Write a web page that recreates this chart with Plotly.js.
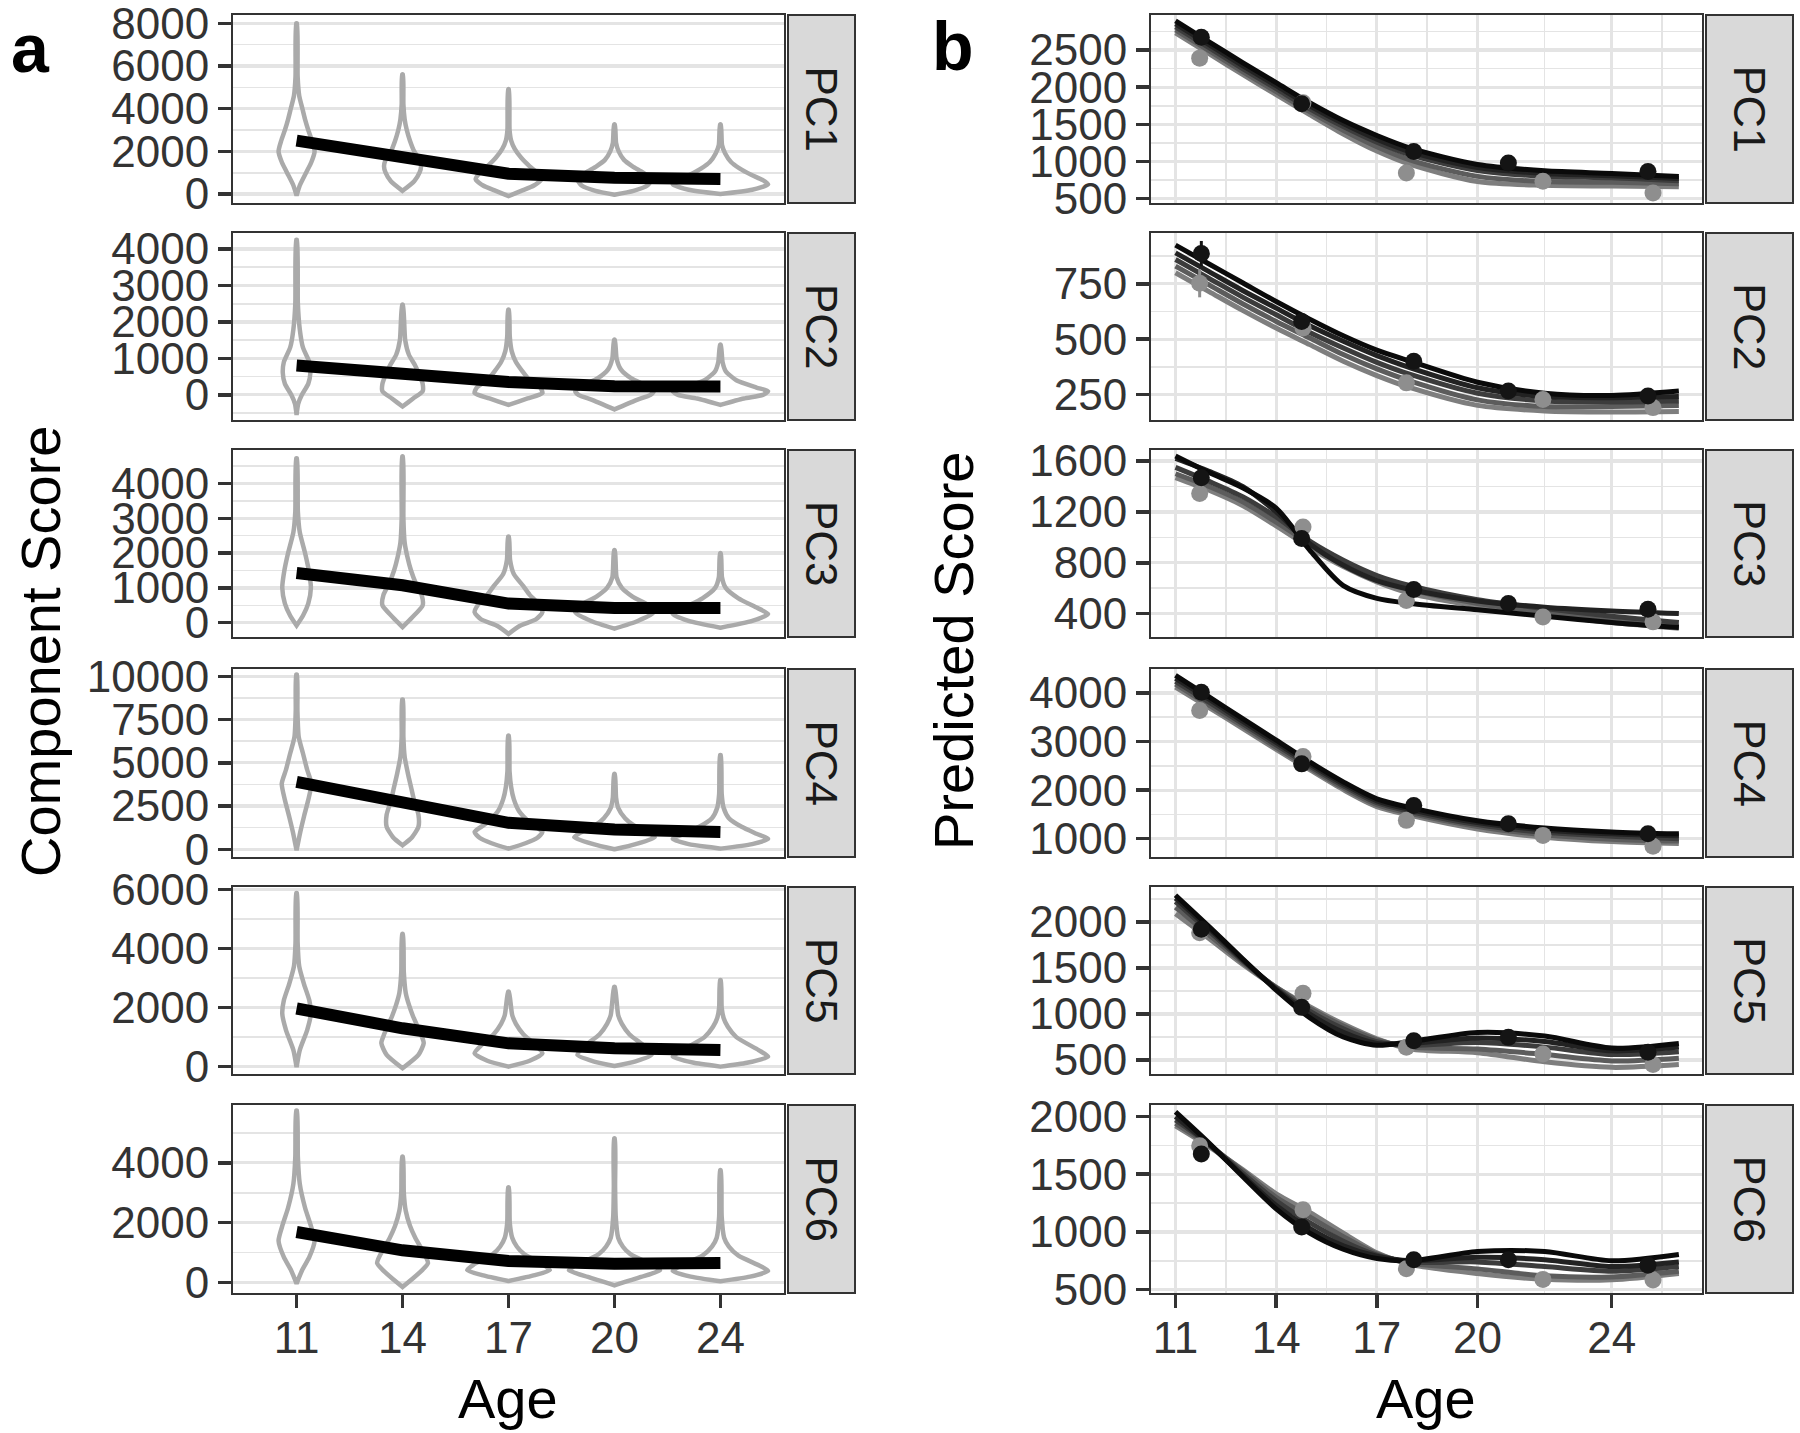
<!DOCTYPE html>
<html><head><meta charset="utf-8">
<script src="https://cdn.plot.ly/plotly-3.0.1.min.js"></script>
<style>html,body{margin:0;padding:0;background:#fff}#chart{width:1800px;height:1433px}</style>
</head><body><div id="chart"></div>
<script>
// ---------------- DATA ----------------
const components = ['PC1', 'PC2', 'PC3', 'PC4', 'PC5', 'PC6'];
const ageLabels = ['11', '14', '17', '20', '24'];
const ageIndex = [1, 2, 3, 4, 5];

// Panel a: mean component score per age wave
const meanPC1 = [2500, 1750, 950, 760, 710];
const meanPC2 = [805, 570, 350, 235, 230];
const meanPC3 = [1430, 1075, 550, 420, 420];
const meanPC4 = [3900, 2750, 1530, 1140, 1000];
const meanPC5 = [1970, 1300, 790, 620, 560];
const meanPC6 = [1690, 1080, 725, 635, 655];

// Panel a: violin outlines (score levels and half-widths) per age wave
const violinPC1Y = [
  [-80, 400, 1000, 1500, 2000, 2500, 3000, 3500, 4000, 4600, 5500, 8000],
  [150, 600, 1000, 1300, 1600, 2000, 2500, 3000, 3500, 4200, 5600],
  [-100, 150, 400, 700, 1000, 1300, 1700, 2100, 2500, 3000, 4900],
  [-30, 150, 400, 700, 1000, 1300, 1600, 2000, 2400, 3250],
  [0, 200, 450, 650, 900, 1200, 1500, 1900, 2300, 3250]];
const violinPC1W = [
  [0, 0.03, 0.09, 0.14, 0.17, 0.145, 0.11, 0.08, 0.055, 0.025, 0.01, 0.004],
  [0, 0.11, 0.16, 0.175, 0.16, 0.11, 0.07, 0.04, 0.02, 0.008, 0.004],
  [0, 0.12, 0.24, 0.31, 0.27, 0.2, 0.12, 0.06, 0.025, 0.01, 0.004],
  [0, 0.18, 0.31, 0.35, 0.27, 0.17, 0.09, 0.04, 0.015, 0.004],
  [0, 0.3, 0.45, 0.4, 0.29, 0.18, 0.1, 0.045, 0.015, 0.004]];

const violinPC2Y = [
  [-550, -250, 0, 300, 600, 900, 1300, 1800, 2500, 4250],
  [-320, -100, 100, 300, 550, 800, 1100, 1500, 2470],
  [-275, -100, 50, 200, 400, 650, 900, 1200, 1600, 2330],
  [-400, -150, 0, 100, 250, 450, 700, 1000, 1510],
  [-275, -100, 0, 100, 200, 400, 650, 900, 1370]];
const violinPC2W = [
  [0, 0.015, 0.05, 0.11, 0.13, 0.12, 0.06, 0.03, 0.012, 0.004],
  [0, 0.1, 0.19, 0.19, 0.16, 0.12, 0.06, 0.025, 0.004],
  [0, 0.18, 0.32, 0.3, 0.2, 0.13, 0.07, 0.03, 0.012, 0.004],
  [0, 0.2, 0.34, 0.37, 0.3, 0.16, 0.06, 0.02, 0.004],
  [0, 0.22, 0.4, 0.45, 0.34, 0.15, 0.05, 0.02, 0.004]];

const violinPC3Y = [
  [-80, 200, 550, 1000, 1500, 2000, 2600, 3200, 4720],
  [-125, 150, 500, 800, 1100, 1500, 1900, 2300, 3000, 4770],
  [-320, -100, 100, 300, 550, 800, 1050, 1400, 1800, 2470],
  [-170, 50, 300, 500, 750, 1000, 1300, 2080],
  [-145, 50, 250, 450, 700, 1000, 1300, 1990]];
const violinPC3W = [
  [0, 0.06, 0.11, 0.135, 0.115, 0.08, 0.03, 0.012, 0.004],
  [0, 0.09, 0.19, 0.18, 0.13, 0.08, 0.045, 0.02, 0.008, 0.004],
  [0, 0.1, 0.26, 0.32, 0.28, 0.2, 0.14, 0.05, 0.015, 0.004],
  [0, 0.22, 0.37, 0.32, 0.17, 0.07, 0.02, 0.004],
  [0, 0.3, 0.45, 0.33, 0.17, 0.05, 0.015, 0.004]];

const violinPC4Y = [
  [-60, 1000, 1900, 2850, 3800, 4600, 5550, 6500, 8000, 10100],
  [230, 700, 1300, 2000, 2800, 3600, 4400, 5350, 6500, 8650],
  [40, 350, 650, 1000, 1500, 2200, 2900, 3600, 4500, 6560],
  [0, 300, 700, 1000, 1400, 1800, 2400, 3000, 4350],
  [40, 300, 600, 900, 1300, 1800, 2400, 3200, 5450]];
const violinPC4W = [
  [0, 0.035, 0.07, 0.11, 0.14, 0.1, 0.06, 0.02, 0.008, 0.004],
  [0, 0.09, 0.15, 0.15, 0.11, 0.08, 0.05, 0.02, 0.008, 0.004],
  [0, 0.16, 0.27, 0.32, 0.21, 0.1, 0.05, 0.025, 0.01, 0.004],
  [0, 0.2, 0.38, 0.31, 0.18, 0.1, 0.035, 0.015, 0.004],
  [0, 0.3, 0.45, 0.34, 0.2, 0.08, 0.03, 0.012, 0.004]];

const violinPC5Y = [
  [-20, 560, 1240, 1800, 2250, 2800, 3400, 4200, 5885],
  [-55, 400, 800, 1130, 1700, 2100, 2500, 3200, 4490],
  [0, 200, 450, 750, 1100, 1450, 1750, 2540],
  [20, 180, 400, 700, 1100, 1450, 1750, 2700],
  [0, 130, 340, 560, 1000, 1350, 1650, 2000, 2930]];
const violinPC5W = [
  [0, 0.03, 0.1, 0.135, 0.12, 0.07, 0.025, 0.01, 0.004],
  [0, 0.15, 0.2, 0.17, 0.1, 0.06, 0.03, 0.012, 0.004],
  [0, 0.2, 0.32, 0.25, 0.14, 0.07, 0.035, 0.004],
  [0, 0.2, 0.35, 0.28, 0.14, 0.07, 0.035, 0.004],
  [0, 0.25, 0.45, 0.36, 0.15, 0.07, 0.03, 0.012, 0.004]];

const violinPC6Y = [
  [-30, 400, 850, 1400, 1950, 2500, 3300, 4200, 5740],
  [-145, 300, 650, 1000, 1500, 1900, 2400, 3000, 4200],
  [55, 250, 420, 600, 950, 1200, 1500, 2000, 3175],
  [-90, 190, 420, 550, 950, 1200, 1500, 2200, 3200, 4810],
  [45, 200, 390, 550, 900, 1200, 1500, 2200, 3750]];
const violinPC6W = [
  [0, 0.05, 0.12, 0.17, 0.13, 0.08, 0.03, 0.012, 0.004],
  [0, 0.15, 0.24, 0.2, 0.12, 0.07, 0.03, 0.012, 0.004],
  [0, 0.25, 0.39, 0.33, 0.15, 0.08, 0.035, 0.012, 0.004],
  [0, 0.25, 0.43, 0.38, 0.15, 0.08, 0.035, 0.012, 0.006, 0.004],
  [0, 0.28, 0.45, 0.38, 0.17, 0.08, 0.035, 0.012, 0.004]];

// Panel a y ticks
const yTicksA = [
  [0, 2000, 4000, 6000, 8000],
  [0, 1000, 2000, 3000, 4000],
  [0, 1000, 2000, 3000, 4000],
  [0, 2500, 5000, 7500, 10000],
  [0, 2000, 4000, 6000],
  [0, 2000, 4000]];

// Panel b: predicted trajectories (5 model curves per component, darkest first)
const curveAges = [11, 12, 13, 14, 15, 16, 17, 18, 20, 22, 24, 26];
const curvesPC1 = [
  [2890, 2610, 2330, 2060, 1790, 1550, 1350, 1180, 960, 875, 840, 800],
  [2850, 2570, 2290, 2020, 1750, 1510, 1300, 1130, 920, 840, 810, 770],
  [2810, 2530, 2250, 1980, 1710, 1470, 1260, 1090, 880, 800, 780, 740],
  [2770, 2490, 2210, 1940, 1670, 1420, 1200, 1020, 800, 730, 720, 700],
  [2730, 2450, 2170, 1900, 1630, 1370, 1140, 960, 730, 680, 670, 660]];
const curvesPC2 = [
  [925, 840, 755, 670, 590, 515, 450, 400, 305, 255, 245, 265],
  [890, 805, 720, 640, 560, 490, 425, 370, 280, 240, 235, 240],
  [860, 775, 690, 610, 530, 460, 395, 340, 255, 220, 215, 220],
  [830, 745, 660, 580, 505, 430, 365, 310, 225, 195, 195, 200],
  [800, 715, 630, 550, 475, 400, 335, 280, 200, 175, 170, 172]];
const curvesPC3 = [
  [1640, 1510, 1390, 1230, 900, 620, 520, 480, 430, 380, 330, 290],
  [1620, 1520, 1400, 1200, 950, 780, 660, 590, 500, 450, 420, 400],
  [1550, 1440, 1320, 1160, 970, 820, 700, 620, 510, 440, 380, 330],
  [1500, 1400, 1280, 1120, 950, 800, 680, 590, 480, 410, 350, 300],
  [1470, 1370, 1250, 1090, 920, 770, 650, 560, 460, 390, 330, 285]];
const curvesPC4 = [
  [4360, 3920, 3470, 3030, 2580, 2170, 1820, 1640, 1370, 1220, 1140, 1100],
  [4300, 3870, 3420, 2980, 2540, 2130, 1780, 1600, 1330, 1180, 1100, 1060],
  [4240, 3810, 3370, 2930, 2500, 2090, 1740, 1560, 1290, 1130, 1050, 1000],
  [4180, 3750, 3320, 2880, 2460, 2050, 1700, 1520, 1250, 1080, 990, 950],
  [4120, 3700, 3270, 2840, 2420, 2010, 1660, 1480, 1200, 1030, 940, 900]];
const curvesPC5 = [
  [2290, 1950, 1600, 1260, 960, 750, 660, 700, 800, 760, 630, 680],
  [2260, 1930, 1590, 1270, 1000, 800, 680, 680, 740, 700, 600, 640],
  [2220, 1900, 1580, 1280, 1030, 840, 700, 660, 690, 640, 560, 590],
  [2160, 1860, 1560, 1290, 1060, 870, 720, 640, 620, 560, 490, 520],
  [2090, 1820, 1540, 1290, 1080, 890, 730, 620, 580, 480, 420, 450]];
const curvesPC6 = [
  [2040, 1770, 1480, 1200, 990, 850, 770, 750, 830, 830, 750, 805],
  [2000, 1760, 1490, 1230, 1030, 880, 790, 750, 780, 760, 700, 740],
  [1970, 1760, 1510, 1270, 1080, 920, 800, 740, 740, 700, 660, 700],
  [1940, 1750, 1530, 1300, 1130, 960, 810, 730, 680, 620, 610, 660],
  [1920, 1740, 1540, 1330, 1170, 990, 820, 720, 640, 590, 585, 640]];

// Panel b: observed means (two groups)
const dotAgesBlack = [11.77, 14.76, 18.1, 20.92, 25.08];
const dotAgesGrey = [11.72, 14.8, 17.88, 21.95, 25.23];
const dotsBlackPC1 = [2670, 1776, 1136, 980, 867];
const dotsGreyPC1 = [2390, 1790, 846, 734, 576];
const dotsBlackPC2 = [887, 580, 400, 265, 243];
const dotsGreyPC2 = [753, 550, 302, 227, 190];
const dotsBlackPC3 = [1469, 990, 590, 480, 434];
const dotsGreyPC3 = [1345, 1082, 504, 374, 335];
const dotsBlackPC4 = [4014, 2540, 1685, 1308, 1103];
const dotsGreyPC4 = [3637, 2692, 1377, 1068, 842];
const dotsBlackPC5 = [1920, 1072, 710, 746, 584];
const dotsGreyPC5 = [1884, 1225, 638, 566, 450];
const dotsBlackPC6 = [1675, 1043, 760, 760, 711];
const dotsGreyPC6 = [1747, 1193, 682, 589, 583];
const errBlackPC2 = [57, 0, 0, 0, 0];
const errGreyPC2 = [64, 0, 0, 0, 0];

const ageTicksB = [11, 14, 17, 20, 24];
const yTicksB = [
  [500, 1000, 1500, 2000, 2500],
  [250, 500, 750],
  [400, 800, 1200, 1600],
  [1000, 2000, 3000, 4000],
  [500, 1000, 1500, 2000],
  [500, 1000, 1500, 2000]];

// ---------------- LAYOUT / STYLE ----------------
const W = 1800, H = 1433;
const rowsPx = [[15, 203], [233, 420], [450, 637], [669, 857], [887, 1074], [1105, 1293]];
const aX = [233, 784], aStrip = [788, 855];
const bX = [1151, 1702], bStrip = [1706, 1793];
const yRangeA = [[-420, 8390], [-690, 4440], [-410, 4960], [-445, 10425], [-250, 6090], [-345, 5930]];
const yRangeB = [[442, 2970], [134, 980], [216, 1687], [623, 4493], [348, 2380], [471, 2100]];
const FONT = 'Liberation Sans, Arial, sans-serif';
const GRID = '#E4E4E4';
const BORDER = '#333333';

const meansA = [meanPC1, meanPC2, meanPC3, meanPC4, meanPC5, meanPC6];
const violY = [violinPC1Y, violinPC2Y, violinPC3Y, violinPC4Y, violinPC5Y, violinPC6Y];
const violW = [violinPC1W, violinPC2W, violinPC3W, violinPC4W, violinPC5W, violinPC6W];
const curvesB = [curvesPC1, curvesPC2, curvesPC3, curvesPC4, curvesPC5, curvesPC6];
const dotsBlack = [dotsBlackPC1, dotsBlackPC2, dotsBlackPC3, dotsBlackPC4, dotsBlackPC5, dotsBlackPC6];
const dotsGrey = [dotsGreyPC1, dotsGreyPC2, dotsGreyPC3, dotsGreyPC4, dotsGreyPC5, dotsGreyPC6];
const curveColors = ['#0a0a0a', '#222222', '#3c3c3c', '#5c5c5c', '#7e7e7e'];

const px2x = p => p / W;
const py2y = p => 1 - p / H;

function minorVals(ticks, range) {
  const step = ticks[1] - ticks[0];
  const out = [];
  for (let v = ticks[0] - step / 2; v <= range[1]; v += step) if (v >= range[0]) out.push(v);
  return out;
}

const traces = [];
const layout = {
  width: W, height: H, margin: {l: 0, r: 0, t: 0, b: 0},
  paper_bgcolor: '#fff', plot_bgcolor: '#fff', showlegend: false,
  font: {family: FONT, color: '#333'},
  shapes: [], annotations: []
};

function violinPath(center, ys, ws) {
  const x = [], y = [];
  for (let i = 0; i < ys.length; i++) { x.push(center + ws[i]); y.push(ys[i]); }
  for (let i = ys.length - 1; i >= 0; i--) { x.push(center - ws[i]); y.push(ys[i]); }
  x.push(x[0]); y.push(y[0]);
  return {x, y};
}

const tickCommon = {
  ticklen: 13, tickwidth: 3.5, tickcolor: BORDER, ticklabeloverflow: 'allow',
  tickfont: {size: 44, color: '#333', family: FONT}, zeroline: false,
  showline: true, mirror: true, linecolor: BORDER, linewidth: 2
};

for (let r = 0; r < 6; r++) {
  const isBottom = r === 5;
  const dom = [py2y(rowsPx[r][1]), py2y(rowsPx[r][0])];
  // ---- panel a ----
  const ia = r + 1, xa = 'x' + (ia === 1 ? '' : ia), ya = 'y' + (ia === 1 ? '' : ia);
  layout['xaxis' + (ia === 1 ? '' : ia)] = Object.assign({}, tickCommon, {
    domain: [px2x(aX[0]), px2x(aX[1])], anchor: ya, range: [0.4, 5.6],
    tickvals: ageIndex, ticktext: ageLabels, showgrid: false,
    ticks: isBottom ? 'outside' : '', showticklabels: isBottom, ticklabelstandoff: -8
  });
  layout['yaxis' + (ia === 1 ? '' : ia)] = Object.assign({}, tickCommon, {
    domain: dom, anchor: xa, range: yRangeA[r], tickvals: yTicksA[r],
    ticktext: yTicksA[r].map(String),
    showgrid: true, gridcolor: GRID, gridwidth: 3.2, ticks: 'outside',
    minor: {tickvals: minorVals(yTicksA[r], yRangeA[r]), showgrid: true, gridcolor: GRID, gridwidth: 1.6, ticks: ''}
  });
  for (let k = 0; k < 5; k++) {
    const p = violinPath(ageIndex[k], violY[r][k], violW[r][k]);
    traces.push({x: p.x, y: p.y, xaxis: xa, yaxis: ya, type: 'scatter', mode: 'lines',
      line: {color: '#AAAAAA', width: 4.5, shape: 'spline', smoothing: 0.6}, hoverinfo: 'skip'});
  }
  traces.push({x: ageIndex, y: meansA[r], xaxis: xa, yaxis: ya, type: 'scatter', mode: 'lines',
    line: {color: '#000', width: 12}, hoverinfo: 'skip'});
  layout.shapes.push({type: 'rect', xref: 'paper', yref: 'paper',
    x0: px2x(aStrip[0]), x1: px2x(aStrip[1]), y0: dom[0], y1: dom[1],
    fillcolor: '#D9D9D9', line: {color: BORDER, width: 2}});
  layout.annotations.push({xref: 'paper', yref: 'paper', x: px2x((aStrip[0] + aStrip[1]) / 2),
    y: (dom[0] + dom[1]) / 2, xanchor: 'center', yanchor: 'middle', text: components[r],
    showarrow: false, textangle: 90, font: {size: 44, color: '#1a1a1a', family: FONT}});

  // ---- panel b ----
  const ib = r + 7, xb = 'x' + ib, yb = 'y' + ib;
  layout['xaxis' + ib] = Object.assign({}, tickCommon, {
    domain: [px2x(bX[0]), px2x(bX[1])], anchor: yb, range: [10.27, 26.69],
    tickvals: ageTicksB, showgrid: true, gridcolor: GRID, gridwidth: 3.2,
    ticks: isBottom ? 'outside' : '', showticklabels: isBottom, ticklabelstandoff: -8,
    minor: {tickvals: [12.5, 15.5, 18.5, 22, 25.5], showgrid: true, gridcolor: GRID, gridwidth: 1.6, ticks: ''}
  });
  layout['yaxis' + ib] = Object.assign({}, tickCommon, {
    domain: dom, anchor: xb, range: yRangeB[r], tickvals: yTicksB[r],
    ticktext: yTicksB[r].map(String),
    showgrid: true, gridcolor: GRID, gridwidth: 3.2, ticks: 'outside',
    minor: {tickvals: minorVals(yTicksB[r], yRangeB[r]), showgrid: true, gridcolor: GRID, gridwidth: 1.6, ticks: ''}
  });
  for (let c = curvesB[r].length - 1; c >= 0; c--) {
    traces.push({x: curveAges, y: curvesB[r][c], xaxis: xb, yaxis: yb, type: 'scatter', mode: 'lines',
      line: {color: curveColors[c], width: 5, shape: 'spline', smoothing: 0.8}, hoverinfo: 'skip'});
  }
  const gTrace = {x: dotAgesGrey, y: dotsGrey[r], xaxis: xb, yaxis: yb, type: 'scatter', mode: 'markers',
    marker: {color: '#8E8E8E', size: 17}, hoverinfo: 'skip'};
  const bTrace = {x: dotAgesBlack, y: dotsBlack[r], xaxis: xb, yaxis: yb, type: 'scatter', mode: 'markers',
    marker: {color: '#141414', size: 17}, hoverinfo: 'skip'};
  if (r === 1) {
    gTrace.error_y = {type: 'data', array: errGreyPC2, color: '#8E8E8E', thickness: 3, width: 0};
    bTrace.error_y = {type: 'data', array: errBlackPC2, color: '#141414', thickness: 3, width: 0};
  }
  traces.push(gTrace, bTrace);
  layout.shapes.push({type: 'rect', xref: 'paper', yref: 'paper',
    x0: px2x(bStrip[0]), x1: px2x(bStrip[1]), y0: dom[0], y1: dom[1],
    fillcolor: '#D9D9D9', line: {color: BORDER, width: 2}});
  layout.annotations.push({xref: 'paper', yref: 'paper', x: px2x((bStrip[0] + bStrip[1]) / 2),
    y: (dom[0] + dom[1]) / 2, xanchor: 'center', yanchor: 'middle', text: components[r],
    showarrow: false, textangle: 90, font: {size: 45, color: '#1a1a1a', family: FONT}});
}

// titles and panel letters
const txt = (x, y, text, size, extra) => Object.assign({xref: 'paper', yref: 'paper', x: px2x(x), y: py2y(y),
  xanchor: 'center', yanchor: 'middle',
  text: text, showarrow: false, font: {size: size, color: '#000', family: FONT}}, extra || {});
layout.annotations.push(
  txt(30, 48, '<b>a</b>', 68),
  txt(953, 46, '<b>b</b>', 68),
  txt(40, 652, 'Component Score', 56, {textangle: -90}),
  txt(953, 651, 'Predicted Score', 56, {textangle: -90}),
  txt(508, 1398, 'Age', 56),
  txt(1426, 1398, 'Age', 56)
);

Plotly.newPlot('chart', traces, layout, {staticPlot: true, displayModeBar: false});
</script>
</body></html>
